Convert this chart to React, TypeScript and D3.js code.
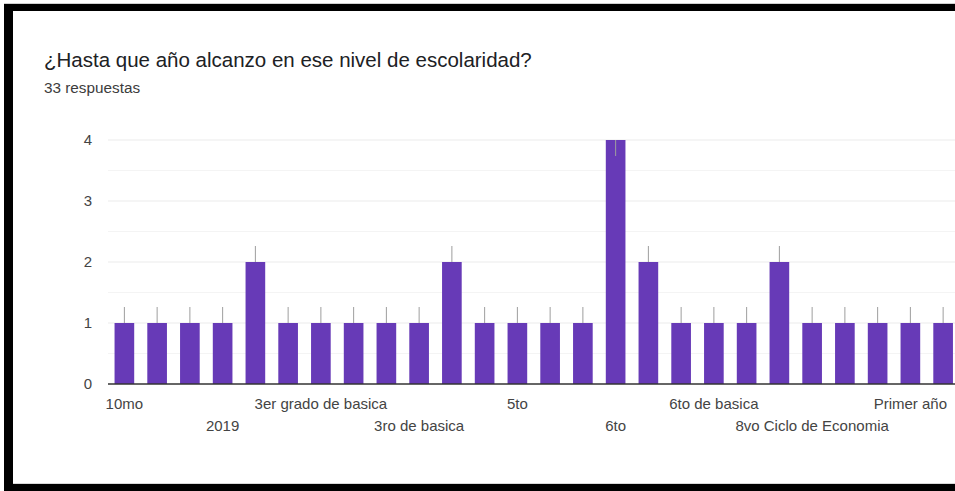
import React from "react";
import * as d3 from "d3";

const title = "¿Hasta que año alcanzo en ese nivel de escolaridad?";
const subtitle = "33 respuestas";

const categories = [
  "10mo",
  "10mo de basica",
  "1ro de bachillerato",
  "2019",
  "2do de bachillerato",
  "3 año",
  "3er grado de basica",
  "3er semestre",
  "3ro de bachillerato",
  "3ro de basica",
  "4to",
  "4to de basica",
  "5to",
  "5to de basica",
  "5to semestre",
  "6to",
  "6to curso",
  "6to de bachillerato",
  "6to de basica",
  "7mo",
  "8vo",
  "8vo Ciclo de Economia",
  "9no",
  "Bachillerato",
  "Primer año",
  "Tercer año",
];

const counts = [1, 1, 1, 1, 2, 1, 1, 1, 1, 1, 2, 1, 1, 1, 1, 4, 2, 1, 1, 1, 2, 1, 1, 1, 1, 1];

const yTicks = [0, 1, 2, 3, 4];
const gridValues = [0.5, 1, 1.5, 2, 2.5, 3, 3.5, 4];

const W = 955;
const H = 491;
const FONT = "Arial, 'Liberation Sans', sans-serif";

export default function App() {
  const x = d3
    .scaleBand<string>()
    .domain(categories)
    .range([108, 959.5])
    .paddingInner(0.4)
    .paddingOuter(0.2);
  const y = d3.scaleLinear().domain([0, 4]).range([384, 140]);
  const plotTop = y(4);

  return (
    <div style={{ position: "absolute", left: 0, top: 0, width: W, height: H, overflow: "hidden" }}>
      <svg width={W} height={H} style={{ display: "block" }}>
        <rect x={0} y={0} width={W} height={H} fill="#ffffff" />
        <rect x={4} y={3} width={W} height={H} fill="#d0d0d0" />
        <rect x={4} y={4} width={W} height={H} fill="#000000" />
        <rect x={13} y={11} width={W} height={473} fill="#d8d8d8" />
        <rect x={13} y={11} width={W} height={472} fill="#ffffff" />

        <text x={44} y={67} fontFamily={FONT} fontSize={20.5} fill="#202124">
          {title}
        </text>
        <text x={44} y={93} fontFamily={FONT} fontSize={15.3} fill="#3c3c3c">
          {subtitle}
        </text>

        {gridValues.map((g) => (
          <line
            key={g}
            x1={108}
            x2={W}
            y1={y(g)}
            y2={y(g)}
            stroke={Number.isInteger(g) ? "#ebebeb" : "#f4f4f4"}
            strokeWidth={1}
          />
        ))}

        {yTicks.map((t) => (
          <text
            key={t}
            x={92}
            y={y(t)}
            dy="0.35em"
            textAnchor="end"
            fontFamily={FONT}
            fontSize={15}
            fill="#444"
          >
            {t}
          </text>
        ))}

        {categories.map((c, i) => {
          const v = counts[i];
          const bx = x(c)!;
          const bw = x.bandwidth();
          const cx = bx + bw / 2;
          const top = y(v);
          const stemUp = top - 16 >= plotTop - 0.5;
          return (
            <g key={c}>
              <rect x={bx} y={top} width={bw} height={y(0) - top} fill="#673ab7" />
              <line
                x1={cx}
                x2={cx}
                y1={top}
                y2={stemUp ? top - 16 : top + 16}
                stroke="#9e9e9e"
                strokeWidth={1}
              />
            </g>
          );
        })}

        <line x1={108} x2={W} y1={y(0)} y2={y(0)} stroke="#333" strokeWidth={1.5} />

        {categories.map((c, i) =>
          i % 3 === 0 ? (
            <text
              key={c}
              x={x(c)! + x.bandwidth() / 2}
              y={(i / 3) % 2 === 0 ? 409 : 431}
              textAnchor="middle"
              fontFamily={FONT}
              fontSize={15}
              fill="#444"
            >
              {c}
            </text>
          ) : null
        )}
      </svg>
    </div>
  );
}
